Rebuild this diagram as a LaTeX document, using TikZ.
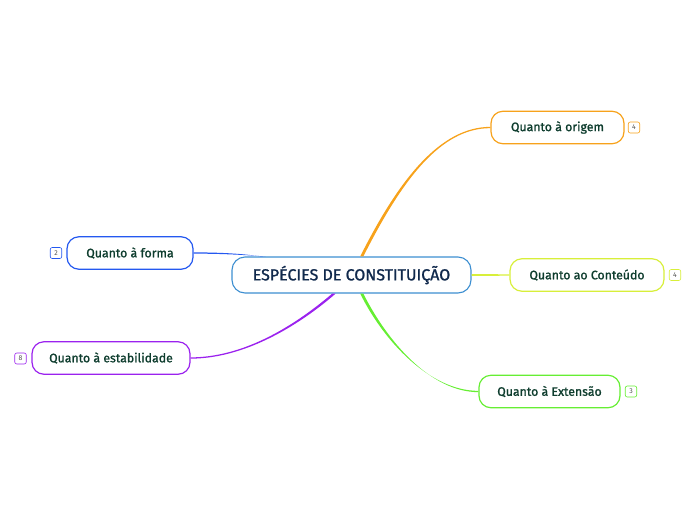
\documentclass[tikz,border=0pt]{standalone}
\usepackage{fontspec}
\setmainfont{Fira Sans}
\newfontfamily\medfont{Fira Sans}[FakeBold=1.2]
\usetikzlibrary{calc}
\definecolor{cOrange}{HTML}{F7A21B}
\definecolor{cYellow}{HTML}{D8EF3A}
\definecolor{cGreen}{HTML}{66EE33}
\definecolor{cBlue}{HTML}{2458F0}
\definecolor{cPurple}{HTML}{9B22EE}
\definecolor{cCentral}{HTML}{3D8FD1}
\definecolor{tGreen}{HTML}{0E3D2E}
\definecolor{tNavy}{HTML}{10294C}
\definecolor{tGray}{HTML}{555555}
\tikzset{
  central/.style={draw=cCentral, line width=1.1pt, fill=white, rounded corners=13pt,
    minimum width=239pt, minimum height=36pt, inner sep=0pt,
    font=\medfont\fontsize{16}{18}\selectfont, text=tNavy},
  branch/.style={draw=#1, line width=1.2pt, fill=white, rounded corners=12pt,
    minimum height=32.5pt, inner sep=0pt, font=\medfont\fontsize{12.3}{14}\selectfont, text=tGreen},
  badge/.style={draw=#1, line width=0.6pt, rounded corners=2pt, fill=white,
    minimum width=11.5pt, minimum height=11pt, inner sep=0pt,
    font=\fontsize{7}{8}\selectfont, text=tGray},
}
\begin{document}
\begin{tikzpicture}[x=1pt,y=-1pt]
\useasboundingbox (0,0) rectangle (696,520);
\node[central] (c) at (351.5,275) {ESPÉCIES DE CONSTITUIÇÃO};
\node[branch=cOrange, minimum width=133pt] (o) at (557.5,127.5) {Quanto à origem};
\node[branch=cYellow, minimum width=154pt] (t) at (587,275) {Quanto ao Conteúdo};
\node[branch=cGreen, minimum width=141pt] (e) at (549.5,391.5) {Quanto à Extensão};
\node[branch=cBlue, minimum width=126pt] (f) at (130,253) {Quanto à forma};
\node[branch=cPurple, minimum width=158pt] (s) at (111,358) {Quanto à estabilidade};
\node[badge=cOrange] (bo) at (634,127.5) {4};
\node[badge=cYellow] (bt) at (675,275) {4};
\node[badge=cGreen] (be) at (631,391.5) {3};
\node[badge=cBlue] (bf) at (56,253) {2};
\node[badge=cPurple] (bs) at (20.5,358.5) {8};
% connectors (tapered)
\fill[cOrange] ($(c.north)+(8.7,0)$) .. controls (398.5,180) and (440,126.9) .. ($(o.west)+(0,-0.65)$)
  -- ($(o.west)+(0,0.65)$) .. controls (440,128.1) and (401.5,181) .. ($(c.north)+(11.8,0)$) -- cycle;
\fill[cGreen] ($(c.south)+(8.7,0)$) .. controls (383.5,341) and (430,390.9) .. ($(e.west)+(0,-0.65)$)
  -- ($(e.west)+(0,0.65)$) .. controls (430,392.1) and (386.5,340) .. ($(c.south)+(11.8,0)$) -- cycle;
\fill[cYellow] ($(c.east)+(0,-1)$) -- ($(t.west)+(0,-0.65)$) -- ($(t.west)+(0,0.65)$) -- ($(c.east)+(0,1)$) -- cycle;
\fill[cPurple] ($(s.east)+(0,-0.65)$) .. controls (250,357.4) and (303.5,318) .. ($(c.south)+(-19.2,0)$)
  -- ($(c.south)+(-15.8,0)$) .. controls (306.5,319) and (250,358.6) .. ($(s.east)+(0,0.65)$) -- cycle;
\fill[cBlue] ($(f.east)+(0,-0.65)$) .. controls (225,252.4) and (245,254.1) .. ($(c.north)+(-90,0)$)
  -- ($(c.north)+(-86,0)$) .. controls (248,255.2) and (225,253.6) .. ($(f.east)+(0,0.65)$) -- cycle;
\end{tikzpicture}
\end{document}
